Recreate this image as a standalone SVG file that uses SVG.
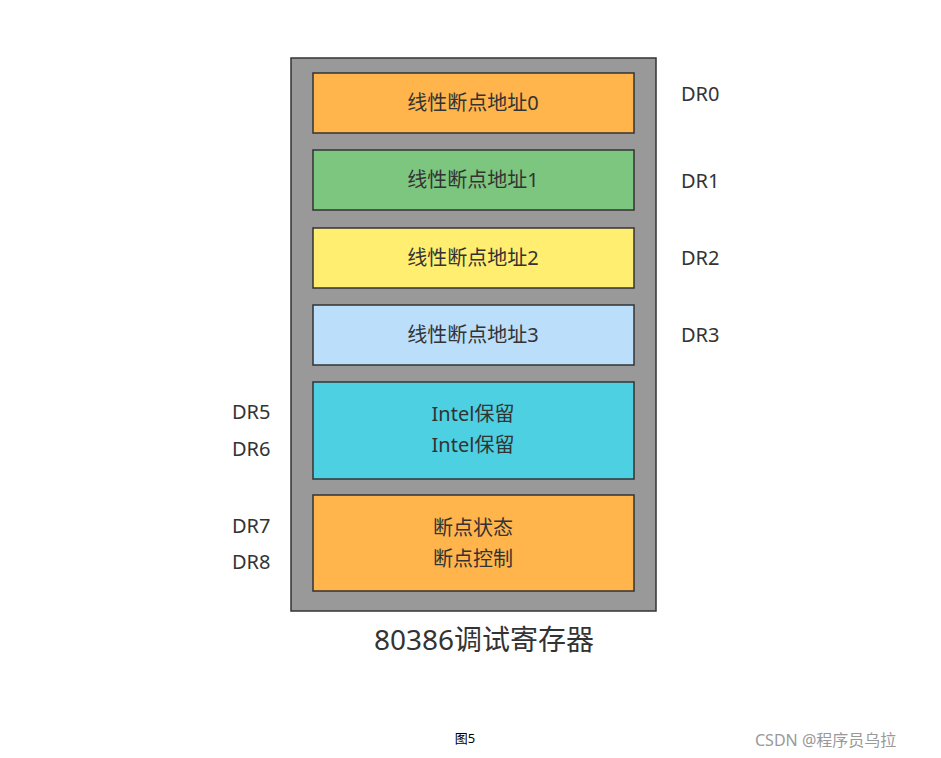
<svg xmlns="http://www.w3.org/2000/svg" width="941" height="758" viewBox="0 0 941 758">
<style>
text{font-family:"Noto Sans","Noto Sans CJK SC",sans-serif;fill:#333;}
.b{stroke:#333;stroke-width:1.5;}
.t{font-size:20px;text-anchor:middle;}
.l{font-size:20px;}
</style>
<rect width="941" height="758" fill="#fff"/>
<g id="outer"><rect x="291" y="58" width="365" height="553" fill="#999" stroke="#333" stroke-width="1.5"/></g>
<g id="dr0"><rect class="b" x="313" y="73" width="321" height="60" fill="#FFB54C"/><text class="t" x="473" y="110">线性断点地址0</text></g>
<g id="dr1"><rect class="b" x="313" y="150" width="321" height="60" fill="#7DC67F"/><text class="t" x="473" y="187">线性断点地址1</text></g>
<g id="dr2"><rect class="b" x="313" y="228" width="321" height="60" fill="#FFEE70"/><text class="t" x="473" y="265">线性断点地址2</text></g>
<g id="dr3"><rect class="b" x="313" y="305" width="321" height="60" fill="#BBDEFB"/><text class="t" x="473" y="342">线性断点地址3</text></g>
<g id="dr56"><rect class="b" x="313" y="382" width="321" height="97" fill="#4DD0E1"/><text class="t" x="473" y="421">Intel保留</text><text class="t" x="473" y="452">Intel保留</text></g>
<g id="dr78"><rect class="b" x="313" y="495" width="321" height="96" fill="#FFB54C"/><text class="t" x="473" y="535">断点状态</text><text class="t" x="473" y="566">断点控制</text></g>
<g id="labels">
<text class="l" x="681" y="101">DR0</text><text class="l" x="681" y="188">DR1</text><text class="l" x="681" y="265">DR2</text><text class="l" x="681" y="342">DR3</text>
<text class="l" x="232" y="419">DR5</text><text class="l" x="232" y="456">DR6</text><text class="l" x="232" y="533">DR7</text><text class="l" x="232" y="569">DR8</text>
<text x="484" y="650" font-size="28" text-anchor="middle">80386调试寄存器</text>
<text x="465" y="743" font-size="13" text-anchor="middle" style="fill:#000">图5</text>
<text x="755" y="746" font-size="16" style="fill:#999">CSDN @程序员乌拉</text>
</g>
<g id="connectors"></g>
</svg>
